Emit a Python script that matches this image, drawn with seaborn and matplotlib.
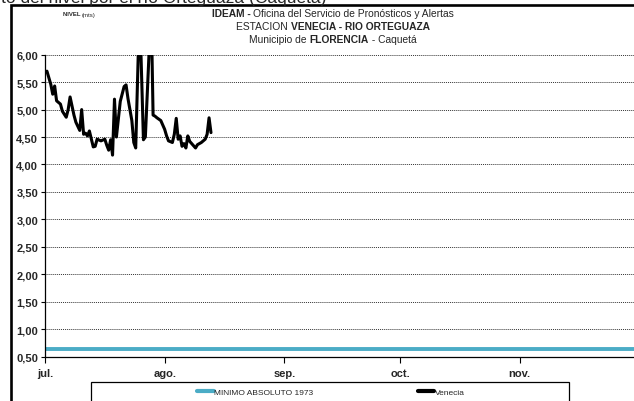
import numpy as np
import pandas as pd
import matplotlib
matplotlib.use("Agg")
import matplotlib.pyplot as plt
from matplotlib import font_manager
from matplotlib.patches import Rectangle
import seaborn as sns

# ---------------- data ----------------
# day offsets from 1 July (readings) and river level (m)
venecia_days = [0.5, 1.5, 2.0, 2.5, 3.0, 4.0, 4.5, 5.5, 6.0, 6.5, 7.5, 8.0, 9.0, 9.5,
                10.0, 10.5, 11.0, 11.5, 12.5, 13.0, 13.5, 14.5, 15.5, 16.0, 16.5, 17.0,
                17.5, 18.0, 18.5, 19.5, 20.5, 21.0, 21.5, 22.5, 23.0, 23.5, 24.5, 25.5,
                26.0, 27.5, 28.0, 28.5, 29.0, 30.0, 31.0, 31.5, 32.0, 33.0, 33.5, 34.0,
                34.5, 35.0, 35.5, 36.0, 36.5, 37.0, 37.5, 38.0, 39.0, 39.5, 40.5, 41.5,
                42.0, 42.5, 43.0]
venecia_level = [5.70, 5.46, 5.28, 5.43, 5.16, 5.10, 4.97, 4.86, 5.00, 5.23, 4.90, 4.77,
                 4.62, 5.00, 4.55, 4.57, 4.52, 4.61, 4.32, 4.33, 4.46, 4.43, 4.46, 4.35,
                 4.26, 4.45, 4.17, 5.19, 4.50, 5.15, 5.42, 5.45, 5.20, 4.80, 4.40, 4.30,
                 6.90, 4.45, 4.50, 6.90, 4.90, 4.88, 4.85, 4.80, 4.64, 4.52, 4.43, 4.40,
                 4.55, 4.84, 4.46, 4.52, 4.33, 4.38, 4.30, 4.52, 4.42, 4.38, 4.30, 4.36,
                 4.40, 4.46, 4.55, 4.85, 4.58]
season_days = [0, 184]
minimo_1973 = [0.64, 0.64]

month_days = [0, 31, 62, 92, 123]
month_labels = ["jul.", "ago.", "sep.", "oct.", "nov."]
y_ticks = [0.5, 1.0, 1.5, 2.0, 2.5, 3.0, 3.5, 4.0, 4.5, 5.0, 5.5, 6.0]

# ---------------- style ----------------
sns.set_theme(style="white")
avail = {f.name for f in font_manager.fontManager.ttflist}
narrow_ok = "Liberation Sans Narrow" in avail
narrow = "Liberation Sans Narrow" if narrow_ok else "Liberation Sans"
plt.rcParams["font.family"] = [narrow, "DejaVu Sans"]
FAM = [narrow, "DejaVu Sans"]
title_size = 8.0 if narrow_ok else 7.4

W, H = 634, 402
fig = plt.figure(figsize=(W / 100, H / 100), dpi=100)
fig.patch.set_facecolor("white")

def fx(px):
    return px / W

def fy(py):
    return 1 - py / H

ax_left, ax_right, ax_top, ax_bottom = 45, 634, 55.7, 357.5
ax = fig.add_axes([fx(ax_left), fy(ax_bottom), fx(ax_right - ax_left), (ax_bottom - ax_top) / H])

df_v = pd.DataFrame({"dia": venecia_days, "nivel": venecia_level})
df_m = pd.DataFrame({"dia": season_days, "nivel": minimo_1973})

sns.lineplot(data=df_m, x="dia", y="nivel", ax=ax, color="#4BACC6", lw=2.8,
             label="MINIMO ABSOLUTO 1973", legend=False)
sns.lineplot(data=df_v, x="dia", y="nivel", ax=ax, color="black", lw=2.2,
             label="Venecia", legend=False)

px_per_day = 3.86
ax.set_xlim(0, (ax_right - ax_left) / px_per_day)
ax.set_ylim(0.5, 6.0)
ax.set_xlabel("")
ax.set_ylabel("")

ax.set_yticks(y_ticks)
ax.set_yticklabels([f"{v:.2f}".replace(".", ",") for v in y_ticks],
                   fontsize=8, fontweight="bold", family=FAM)
ax.set_xticks(month_days)
ax.set_xticklabels(month_labels, fontsize=8, fontweight="bold", family=FAM)
ax.tick_params(axis="y", length=3, width=0.8, color="black", pad=2, left=True)
ax.tick_params(axis="x", length=4, width=0.8, color="black", pad=4, bottom=True)

ax.grid(False)
for v in y_ticks[1:]:
    ax.axhline(v, color="#333333", lw=0.7, ls=(0, (1, 1)), zorder=0.5)

for s in ["top", "right"]:
    ax.spines[s].set_visible(False)
ax.spines["left"].set_color("black")
ax.spines["left"].set_linewidth(0.9)
ax.spines["bottom"].set_color("black")
ax.spines["bottom"].set_linewidth(0.9)

# ---------------- outer frame ----------------
fig.add_artist(Rectangle((fx(11), -0.2), 1.5, fy(6) + 0.2, transform=fig.transFigure,
                         fill=False, edgecolor="black", lw=1.9))

# ---------------- titles ----------------
renderer = fig.canvas.get_renderer()

def rich_line(pieces, x0, yc, size, align="center"):
    texts = []
    total = 0
    for s, w in pieces:
        t = fig.text(0, fy(yc), s, fontsize=size, fontweight=w, va="center", ha="left",
                     family=FAM)
        bb = t.get_window_extent(renderer=renderer)
        texts.append((t, bb.width))
        total += bb.width
    x = x0 - total / 2 if align == "center" else x0
    for t, wpx in texts:
        t.set_x(fx(x))
        x += wpx

rich_line([("IDEAM - ", "bold"), ("Oficina del Servicio de Pronósticos y Alertas", "normal")],
          333, 14, title_size)
rich_line([("ESTACION ", "normal"), ("VENECIA - RIO ORTEGUAZA", "bold")], 333, 27, title_size)
rich_line([("Municipio de ", "normal"), ("FLORENCIA", "bold"), (" - Caquetá", "normal")],
          333, 40, title_size)

rich_line([("NIVEL ", "bold"), ("(mts)", "normal")], 63, 15, 4.3, align="left")

# partial heading of the page above (cut at the top edge)
fig.text(fx(326), fy(2.5), "Comportamiento del nivel por el río Orteguaza (Caquetá)",
         fontsize=12.5, va="baseline", ha="right", family=["Liberation Sans", "DejaVu Sans"])

# ---------------- legend ----------------
fig.add_artist(Rectangle((fx(91), -0.2), fx(569 - 91), fy(383) + 0.2, transform=fig.transFigure,
                         fill=False, edgecolor="black", lw=0.9))
handles, labels = ax.get_legend_handles_labels()
leg = fig.legend(handles, labels, loc="center left", bbox_to_anchor=(fx(197), fy(393)),
                 ncol=2, frameon=False, fontsize=6, handlelength=2.0, handletextpad=0.1,
                 columnspacing=12.5, borderpad=0, borderaxespad=0)
for t in leg.get_texts():
    t.set_family(FAM)
for h in leg.legend_handles:
    h.set_linewidth(3)

fig.savefig("out.png", dpi=100)
